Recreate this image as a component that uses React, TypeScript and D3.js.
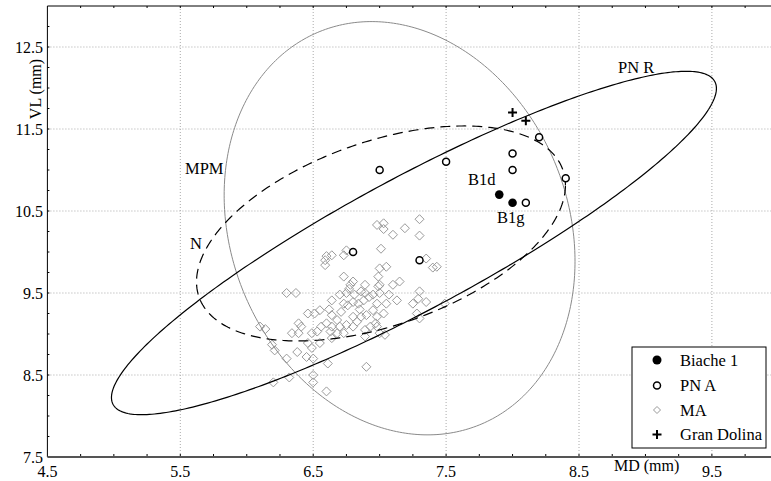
import React from "react";
import * as d3 from "d3";

const W = 771;
const H = 481;

// Axis ticks
const xTickLabels = [4.5, 5.5, 6.5, 7.5, 8.5, 9.5];
const yTickLabels = [7.5, 8.5, 9.5, 10.5, 11.5, 12.5];

// Biache 1
const biacheX = [7.9, 8.0];
const biacheY = [10.7, 10.6];

// PN A
const pnaX = [7.0, 7.5, 8.0, 8.0, 8.2, 8.4, 8.1, 6.8, 7.3];
const pnaY = [11.0, 11.1, 11.2, 11.0, 11.4, 10.9, 10.6, 10.0, 9.9];

// Gran Dolina
const gdX = [8.0, 8.1];
const gdY = [11.7, 11.6];

// MA
const maX = [
  6.98, 7.03, 7.03, 7.1, 7.19, 7.3, 7.3, 7.01,
  6.6, 6.64, 6.59, 6.59, 6.73, 6.75,
  7.0, 7.05, 7.35, 7.4, 7.43,
  6.73, 6.8, 6.78, 6.89, 6.99, 7.0, 7.1, 7.15,
  6.3, 6.37,
  6.64, 6.7, 6.75, 6.81, 6.86, 6.89,
  6.73, 6.76, 6.8, 6.84, 6.88,
  6.95, 6.99, 7.0, 7.07,
  6.98, 7.05, 7.13,
  7.3, 7.29, 7.35,
  6.46, 6.51, 6.55,
  6.64, 6.68, 6.71,
  6.8, 6.86, 6.9,
  6.95, 6.98, 7.03,
  6.39, 6.41,
  6.56, 6.6, 6.64,
  6.7, 6.75,
  6.8, 6.83,
  6.93, 6.98,
  6.34, 6.39,
  6.49, 6.53,
  6.63, 6.68, 6.73,
  6.89, 7.0, 7.04,
  6.1, 6.14,
  6.19, 6.21,
  6.3,
  6.38, 6.45, 6.5,
  6.46, 6.49, 6.55,
  6.64,
  6.61,
  6.9,
  6.2, 6.32,
  6.5, 6.5,
  6.6,
  7.28, 7.3,
  7.49,
  6.89, 6.97, 7.25, 6.77, 6.92, 6.85, 6.62,
];
const maY = [
  10.33, 10.35, 10.28, 10.21, 10.29, 10.4, 10.2, 10.04,
  9.95, 9.96, 9.9, 9.84, 9.96, 10.02,
  9.8, 9.82, 9.92, 9.81, 9.82,
  9.7, 9.64, 9.6, 9.6, 9.7, 9.6, 9.6, 9.64,
  9.5, 9.5,
  9.41, 9.48, 9.5, 9.48, 9.52, 9.5,
  9.37, 9.35, 9.39, 9.37, 9.41,
  9.48, 9.58, 9.5, 9.48,
  9.37, 9.37, 9.41,
  9.52, 9.43, 9.39,
  9.25, 9.25, 9.29,
  9.23, 9.17, 9.27,
  9.21, 9.21, 9.23,
  9.29, 9.21, 9.25,
  9.13, 9.09,
  9.09, 9.13, 9.09,
  9.09, 9.11,
  9.09, 9.15,
  9.09, 9.09,
  9.01, 9.01,
  9.01, 9.03,
  9.03, 9.01, 9.01,
  8.97, 9.01, 8.99,
  9.09, 9.06,
  8.87, 8.8,
  8.7,
  8.78, 8.72, 8.7,
  8.89, 8.83, 8.89,
  8.95,
  8.64,
  8.6,
  8.41, 8.47,
  8.5, 8.41,
  8.3,
  9.25, 9.19,
  9.37,
  9.05, 9.13, 9.37, 9.55, 9.45, 9.3, 9.3,
];

// Ellipses: centre, half-extent along x and y, correlation
const ellipseNames = ["PN R", "MPM", "N"];
const ellCX = [7.258, 7.15, 7.01];
const ellCY = [10.11, 10.29, 10.226];
const ellHX = [2.276, 1.32, 1.388];
const ellHY = [2.094, 2.52, 1.311];
const ellR = [0.9, -0.16, 0.45];

const legendLabels = ["Biache 1", "PN A", "MA", "Gran Dolina"];

const FONT = "'Liberation Serif', 'Times New Roman', serif";

export default function App() {
  const x = d3.scaleLinear().domain([4.5, 10]).range([47.4, 47.4 + 5.5 * 132.9]);
  const y = d3.scaleLinear().domain([7.5, 13]).range([457, 6]);
  const left = x(4.5);
  const right = W;
  const top = y(13);
  const bottom = y(7.5);

  const minorX = d3.range(4.75, 10.0, 0.25);
  const minorY = d3.range(7.75, 13.0, 0.25);
  const gridX = [5.5, 6.5, 7.5, 8.5, 9.5];
  const gridY = [8.5, 9.5, 10.5, 11.5, 12.5];

  const line = d3
    .line<[number, number]>()
    .x((d) => x(d[0]))
    .y((d) => y(d[1]))
    .curve(d3.curveLinearClosed);

  const ellipsePath = (i: number) => {
    const phi = Math.acos(ellR[i]);
    const pts: [number, number][] = d3.range(0, 360, 1).map((deg) => {
      const t = (deg * Math.PI) / 180;
      return [ellCX[i] + ellHX[i] * Math.cos(t), ellCY[i] + ellHY[i] * Math.cos(t - phi)];
    });
    return line(pts) || "";
  };

  const diamond = (cx: number, cy: number, s: number) =>
    `M${cx},${cy - s}L${cx + s},${cy}L${cx},${cy + s}L${cx - s},${cy}Z`;
  const plus = (cx: number, cy: number, s: number) =>
    `M${cx - s},${cy}H${cx + s}M${cx},${cy - s}V${cy + s}`;

  const legX = 632;
  const legY = 347;
  const legRowY = [360, 385.5, 410, 434.5];

  return (
    <svg
      width={W}
      height={H}
      style={{ position: "absolute", left: 0, top: 0, background: "#fff" }}
      fontFamily={FONT}
    >
      <defs>
        <clipPath id="plot">
          <rect x={left} y={top} width={right - left} height={bottom - top} />
        </clipPath>
      </defs>
      <rect x={0} y={0} width={W} height={H} fill="#fff" />

      {/* grid */}
      {gridX.map((v) => (
        <line key={"gx" + v} x1={x(v)} x2={x(v)} y1={top} y2={bottom} stroke="#aaa" strokeWidth={1} strokeDasharray="1,2" />
      ))}
      {gridY.map((v) => (
        <line key={"gy" + v} x1={left} x2={right} y1={y(v)} y2={y(v)} stroke="#aaa" strokeWidth={1} strokeDasharray="1,2" />
      ))}

      {/* frame */}
      <line x1={left} x2={right} y1={top} y2={top} stroke="#000" strokeWidth={1} />
      <line x1={left} x2={left} y1={top} y2={bottom} stroke="#000" strokeWidth={1} />
      <line x1={left} x2={right} y1={bottom} y2={bottom} stroke="#555" strokeWidth={2} />

      {/* ticks */}
      {minorX.map((v) => (
        <g key={"tx" + v}>
          <line x1={x(v)} x2={x(v)} y1={bottom - 1} y2={bottom - 3} stroke="#000" strokeWidth={1} />
          <line x1={x(v)} x2={x(v)} y1={top} y2={top + 2} stroke="#000" strokeWidth={1} />
        </g>
      ))}
      {minorY.map((v) => (
        <line key={"ty" + v} x1={left} x2={left + 2} y1={y(v)} y2={y(v)} stroke="#000" strokeWidth={1} />
      ))}

      {/* tick labels */}
      {xTickLabels.map((v) => (
        <text key={"lx" + v} x={x(v)} y={477} textAnchor="middle" fontSize={16} fill="#000">
          {v.toFixed(1)}
        </text>
      ))}
      {yTickLabels.map((v) => (
        <text key={"ly" + v} x={43} y={y(v) + 5.5} textAnchor="end" fontSize={16} fill="#000">
          {v.toFixed(1)}
        </text>
      ))}

      {/* axis titles */}
      <text x={614} y={471} fontSize={16} fill="#000">MD (mm)</text>
      <text transform="translate(41,89) rotate(-90)" textAnchor="middle" fontSize={16} fill="#000">
        VL (mm)
      </text>

      <g clipPath="url(#plot)">
        {/* MA diamonds */}
        {maX.map((v, i) => (
          <path key={"ma" + i} d={diamond(x(v), y(maY[i]), 4.5)} fill="none" stroke="#999" strokeWidth={1} />
        ))}

        {/* ellipses */}
        <path d={ellipsePath(1)} fill="none" stroke="#8a8a8a" strokeWidth={1} />
        <path d={ellipsePath(0)} fill="none" stroke="#000" strokeWidth={1.2} />
        <path d={ellipsePath(2)} fill="none" stroke="#000" strokeWidth={1.2} strokeDasharray="10,6" />

        {/* PN A */}
        {pnaX.map((v, i) => (
          <circle key={"pna" + i} cx={x(v)} cy={y(pnaY[i])} r={3.5} fill="#fff" stroke="#000" strokeWidth={1.5} />
        ))}
        {/* Biache */}
        {biacheX.map((v, i) => (
          <circle key={"b" + i} cx={x(v)} cy={y(biacheY[i])} r={4.3} fill="#000" />
        ))}
        {/* Gran Dolina */}
        {gdX.map((v, i) => (
          <path key={"gd" + i} d={plus(x(v), y(gdY[i]), 4.5)} stroke="#000" strokeWidth={2} fill="none" />
        ))}
      </g>

      {/* labels */}
      <text x={618} y={73} fontSize={16.5} fill="#000">{ellipseNames[0]}</text>
      <text x={185} y={174} fontSize={16.5} fill="#000">{ellipseNames[1]}</text>
      <text x={190} y={249} fontSize={16.5} fill="#000">{ellipseNames[2]}</text>
      <text x={468} y={185} fontSize={16.5} fill="#000">B1d</text>
      <text x={497} y={223} fontSize={16.5} fill="#000">B1g</text>

      {/* legend */}
      <rect x={legX} y={legY} width={134} height={101} fill="#fff" stroke="#000" strokeWidth={1} />
      <circle cx={657} cy={legRowY[0]} r={4.5} fill="#000" />
      <circle cx={657} cy={legRowY[1]} r={3.5} fill="#fff" stroke="#000" strokeWidth={1.5} />
      <path d={diamond(657, legRowY[2], 3.5)} fill="none" stroke="#999" strokeWidth={1} />
      <path d={plus(657, legRowY[3], 4.5)} stroke="#000" strokeWidth={2} fill="none" />
      {legendLabels.map((l, i) => (
        <text key={l} x={680} y={legRowY[i] + 5.5} fontSize={16.5} fill="#000">
          {l}
        </text>
      ))}
    </svg>
  );
}
